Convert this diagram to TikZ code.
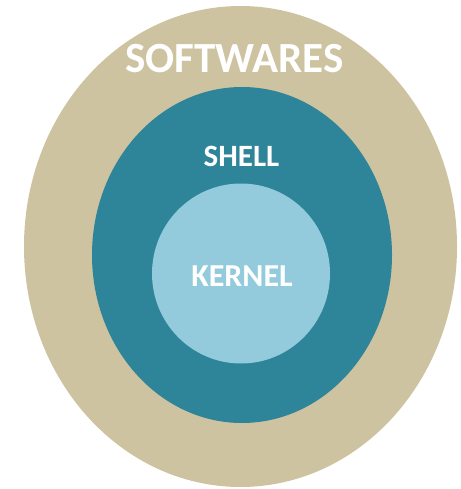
\documentclass[tikz,border=0pt]{standalone}
\usepackage{fontspec}
\setmainfont{Carlito}
\usetikzlibrary{shapes.geometric}
\definecolor{tanc}{RGB}{206,195,160}
\definecolor{tealc}{RGB}{46,132,153}
\definecolor{lightc}{RGB}{147,203,220}
\begin{document}
\begin{tikzpicture}[x=1pt,y=-1pt,
  layer/.style={ellipse, draw=none, inner sep=0pt},
  lbl/.style={text=white, font=\bfseries, anchor=base, inner sep=0pt}]
\useasboundingbox (0,0) rectangle (460,489);
\node[layer, fill=tanc, minimum width=433pt, minimum height=481pt] (soft) at (240.5,246.5) {};
\node[layer, fill=tealc, minimum width=300pt, minimum height=336pt] (shell) at (242,255) {};
\node[layer, fill=lightc, minimum width=178pt, minimum height=180pt] (kernel) at (241,273.5) {};
\node[lbl, font=\bfseries\fontsize{43}{43}\selectfont] (tsoft) at (234.5,73) {SOFTWARES};
\node[lbl, font=\bfseries\fontsize{31}{31}\selectfont] (tshell) at (241.5,166) {SHELL};
\node[lbl, font=\bfseries\fontsize{32}{32}\selectfont] (tkernel) at (242,286) {KERNEL};
\end{tikzpicture}
\end{document}
